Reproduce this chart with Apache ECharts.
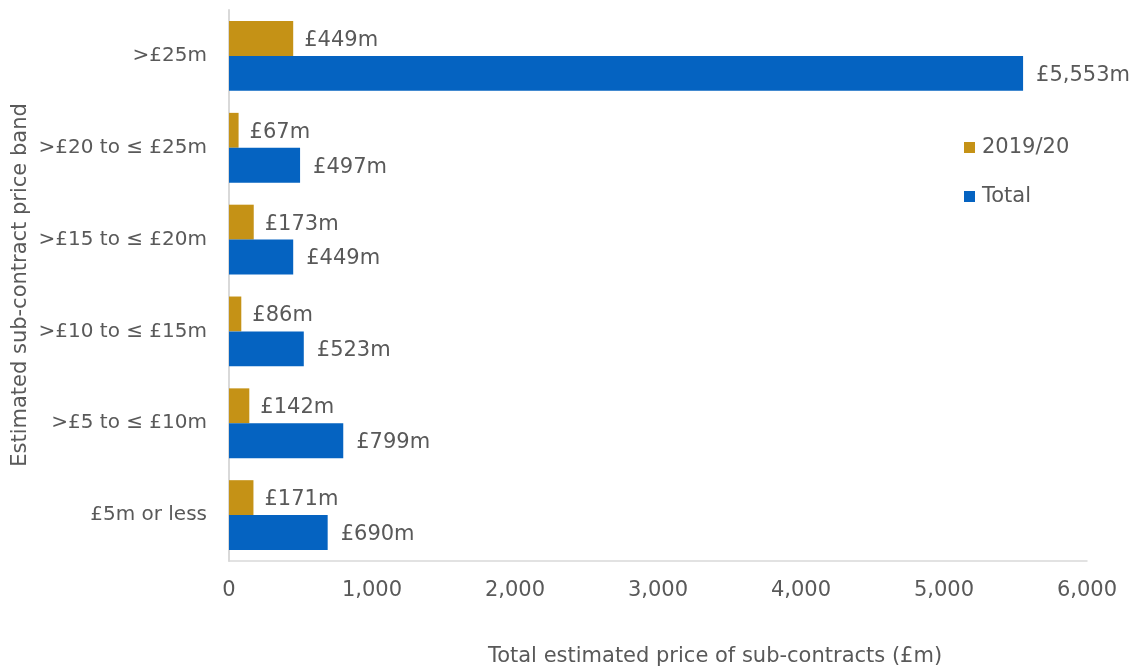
<!DOCTYPE html>
<html>
<head>
<meta charset="utf-8">
<script src="https://cdn.jsdelivr.net/npm/echarts@6/dist/echarts.min.js"></script>
<style>
  html, body { margin: 0; padding: 0; background: #ffffff; }
  #chart { width: 1130px; height: 671px; }
</style>
</head>
<body>
<div id="chart"></div>
<script>
// Price bands, listed from the bottom of the axis to the top
const categories = ['£5m or less', '>£5 to ≤ £10m', '>£10 to ≤ £15m', '>£15 to ≤ £20m', '>£20 to ≤ £25m', '>£25m'];
// Estimated sub-contract value (£m) per band
const values201920 = [171, 142, 86, 173, 67, 449];
const valuesTotal = [690, 799, 523, 449, 497, 5553];
const xTicks = [0, 1000, 2000, 3000, 4000, 5000, 6000];

const FONT = '"DejaVu Sans", "Liberation Sans", Arial, sans-serif';
const FS = 21;
const TEXT = '#595959';
const GOLD = '#C59216';
const BLUE = '#0563C1';

const fmtMoney = v => '£' + v.toLocaleString('en-GB') + 'm';

const chart = echarts.init(document.getElementById('chart'), null, { renderer: 'canvas' });

chart.setOption({
  animation: false,
  textStyle: { fontFamily: FONT, color: TEXT },
  grid: { left: 229, right: 43, top: 10, bottom: 110, containLabel: false },
  legend: {
    orient: 'vertical',
    left: 959,
    top: 132,
    itemWidth: 11,
    itemHeight: 11,
    itemGap: 28,
    icon: 'rect',
    data: ['2019/20', 'Total'],
    textStyle: { fontFamily: FONT, fontSize: FS, color: TEXT, padding: [0, 0, 0, 2] }
  },
  xAxis: {
    type: 'value',
    min: xTicks[0],
    max: xTicks[xTicks.length - 1],
    interval: 1000,
    axisLine: { show: true, lineStyle: { color: '#d9d9d9', width: 1.5 } },
    axisTick: { show: false },
    splitLine: { show: false },
    axisLabel: {
      fontFamily: FONT, fontSize: FS, color: TEXT, margin: 19,
      formatter: v => v.toLocaleString('en-GB')
    }
  },
  yAxis: {
    type: 'category',
    data: categories,
    axisLine: { show: true, lineStyle: { color: '#d9d9d9', width: 2 } },
    axisTick: { show: false },
    axisLabel: { fontFamily: FONT, fontSize: 20, color: TEXT, margin: 22, padding: [5, 0, 0, 0] }
  },
  graphic: [
    {
      type: 'text',
      x: 715, y: 657,
      style: {
        text: 'Total estimated price of sub-contracts (£m)',
        x: 0, y: 0,
        align: 'center', verticalAlign: 'middle',
        font: FS + 'px ' + FONT, fill: TEXT
      }
    },
    {
      type: 'text',
      x: 21, y: 285,
      rotation: Math.PI / 2,
      style: {
        text: 'Estimated sub-contract price band',
        x: 0, y: 0,
        align: 'center', verticalAlign: 'middle',
        font: FS + 'px ' + FONT, fill: TEXT
      }
    }
  ],
  series: [
    {
      name: '2019/20',
      type: 'bar',
      data: values201920,
      barGap: '0%',
      barCategoryGap: '24%',
      itemStyle: { color: GOLD },
      label: {
        show: true, position: 'right', distance: 11, offset: [0, 2],
        fontFamily: FONT, fontSize: FS, color: TEXT,
        formatter: p => fmtMoney(p.value)
      }
    },
    {
      name: 'Total',
      type: 'bar',
      data: valuesTotal,
      barGap: '0%',
      barCategoryGap: '24%',
      itemStyle: { color: BLUE },
      label: {
        show: true, position: 'right', distance: 13, offset: [0, 2],
        fontFamily: FONT, fontSize: FS, color: TEXT,
        formatter: p => fmtMoney(p.value)
      }
    }
  ]
});
</script>
</body>
</html>
